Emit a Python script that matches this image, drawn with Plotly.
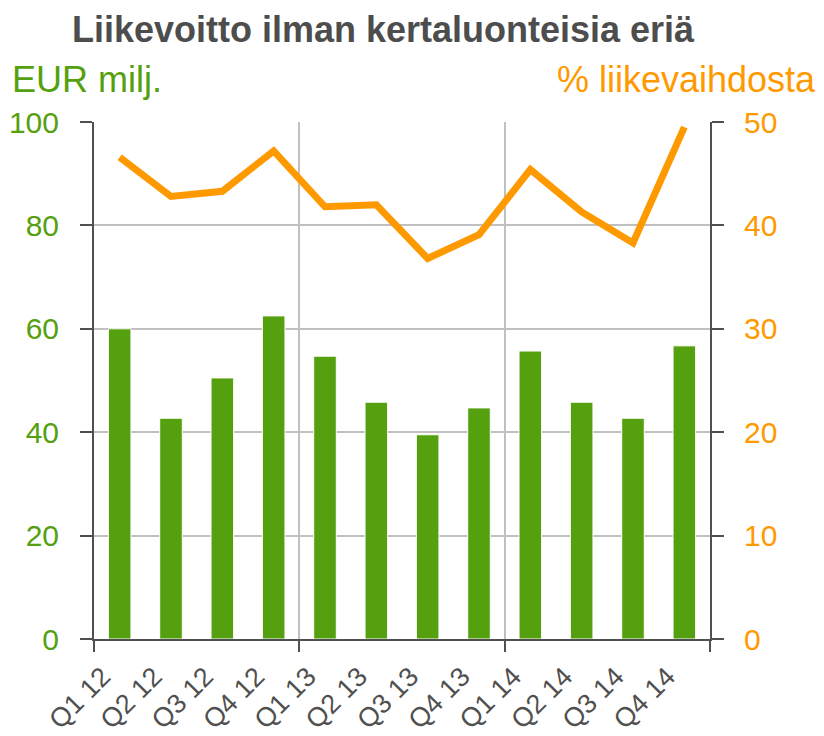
import plotly.graph_objects as go

# Data
quarters = ["Q1 12", "Q2 12", "Q3 12", "Q4 12",
            "Q1 13", "Q2 13", "Q3 13", "Q4 13",
            "Q1 14", "Q2 14", "Q3 14", "Q4 14"]
profit_meur = [60.0, 42.7, 50.5, 62.5, 54.7, 45.8, 39.5, 44.7, 55.7, 45.8, 42.7, 56.7]
margin_pct = [46.6, 42.8, 43.3, 47.2, 41.8, 42.0, 36.8, 39.1, 45.4, 41.3, 38.3, 49.5]

left_ticks = [0, 20, 40, 60, 80, 100]
right_ticks = [0, 10, 20, 30, 40, 50]
year_bounds = [-0.5, 3.5, 7.5, 11.5]

GREEN = "#55A00F"
ORANGE = "#FF9900"
DARK = "#505050"
GRID = "#C0C0C0"
FONT = "Liberation Sans, Arial, sans-serif"

# the page body has an 8px margin, so the figure is drawn 8px smaller
W, H = 816, 728
L, R, T, B = 86, 114, 114, 97
pw, ph = W - L - R, H - T - B

idx = list(range(len(quarters)))

fig = go.Figure()

# bars: operating profit, EUR million
fig.add_trace(go.Bar(
    x=idx, y=profit_meur,
    marker=dict(color=GREEN, line=dict(color="white", width=1)),
    width=0.44,
    xaxis="x", yaxis="y",
    hoverinfo="y",
))

# line: % of net sales
fig.add_trace(go.Scatter(
    x=idx, y=margin_pct,
    mode="lines",
    line=dict(color=ORANGE, width=7),
    xaxis="x2", yaxis="y2",
    hoverinfo="y",
))

fig.update_layout(
    width=W, height=H,
    margin=dict(l=L, r=R, t=T, b=B, autoexpand=False),
    paper_bgcolor="white", plot_bgcolor="white",
    showlegend=False,
    font=dict(family=FONT, color=DARK),
    title=dict(
        text="<b>Liikevoitto ilman kertaluonteisia eriä</b>",
        x=375 / W, xanchor="center", y=1 - 21 / H, yanchor="middle",
        font=dict(size=36, color="#4D4D4D"),
    ),
    xaxis=dict(
        range=[-0.5, 11.5],
        tickvals=idx, ticktext=quarters, tickangle=-45,
        tickfont=dict(size=27, color=DARK),
        ticks="", showgrid=False, zeroline=False,
        showline=True, linecolor=DARK, linewidth=2,
        ticklabelshift=-17, ticklabelstandoff=9,
    ),
    xaxis2=dict(
        overlaying="x", range=[-0.5, 11.5],
        tickvals=year_bounds, showticklabels=False,
        ticks="outside", ticklen=12, tickwidth=2, tickcolor=DARK,
        showgrid=True, gridcolor=GRID, gridwidth=2,
        zeroline=False, showline=False,
        side="bottom", anchor="y",
    ),
    yaxis=dict(
        range=[0, 100], tickvals=left_ticks,
        tickfont=dict(size=30, color=GREEN),
        ticks="outside", ticklen=12, tickwidth=2, tickcolor=DARK,
        showline=True, linecolor=DARK, linewidth=2,
        showgrid=True, gridcolor=GRID, gridwidth=2,
        zeroline=False, ticklabelstandoff=15,
    ),
    yaxis2=dict(
        overlaying="y", side="right", anchor="x",
        range=[0, 50], tickvals=right_ticks,
        tickfont=dict(size=30, color=ORANGE),
        ticks="outside", ticklen=12, tickwidth=2, tickcolor=DARK,
        showline=True, linecolor=DARK, linewidth=2,
        showgrid=False, zeroline=False, ticklabelstandoff=14,
    ),
    annotations=[
        dict(text="EUR milj.", xref="paper", yref="paper",
             x=(2 - L) / pw, y=(H - B - 72) / ph,
             xanchor="left", yanchor="middle", showarrow=False,
             font=dict(size=36, color=GREEN)),
        dict(text="% liikevaihdosta", xref="paper", yref="paper",
             x=(810 - L) / pw, y=(H - B - 72) / ph,
             xanchor="right", yanchor="middle", showarrow=False,
             font=dict(size=36, color=ORANGE)),
    ],
)

fig.write_html("out.html")
